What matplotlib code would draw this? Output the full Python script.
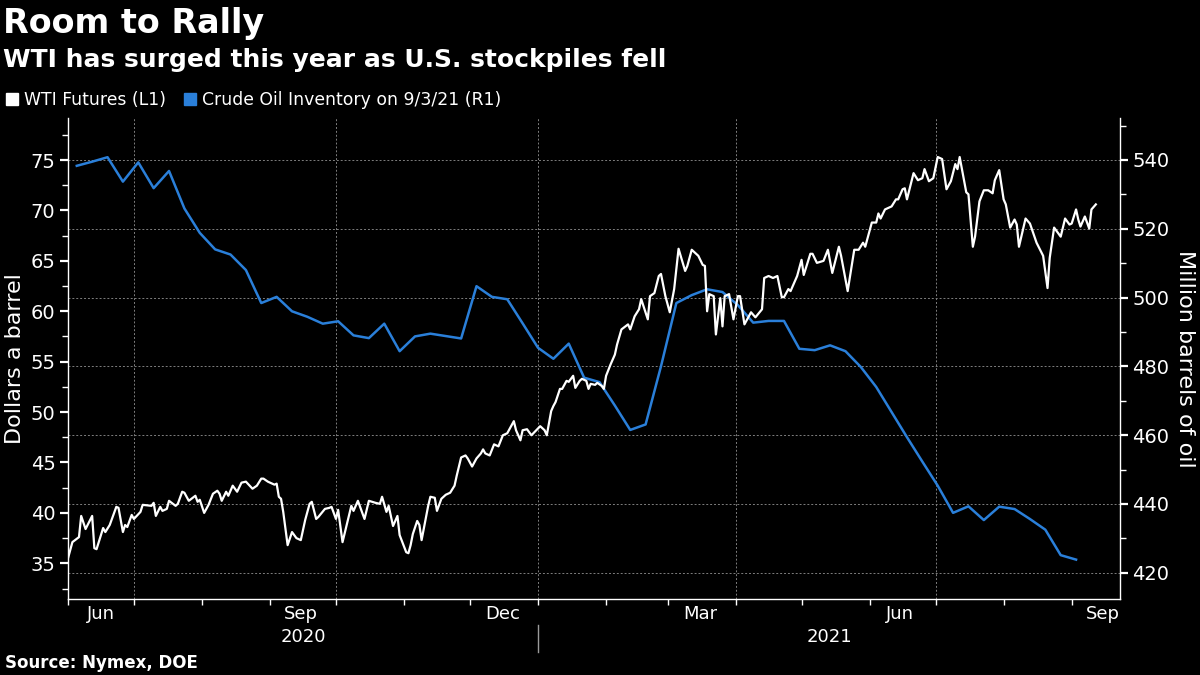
import matplotlib
matplotlib.use("Agg")
import matplotlib.pyplot as plt
import matplotlib.dates as mdates
import matplotlib.transforms as mtransforms
from matplotlib.lines import Line2D
from matplotlib.ticker import MultipleLocator, FixedLocator, FixedFormatter, NullFormatter
import pandas as pd

# WTI futures ($/bbl); x = days since 2020-06-01
wti_days = [
    0, 2, 5, 6, 8, 11, 12, 13, 16, 17, 19, 22, 23, 25, 26, 27, 29, 30, 33, 34,
    38, 39, 40, 42, 43, 45, 46, 49, 50, 52, 53, 55, 58, 59, 60, 62, 64, 66, 68, 69,
    70, 72, 73, 75, 77, 79, 81, 84, 86, 88, 89, 91, 94, 95, 96, 97, 98, 100, 102, 104,
    106, 108, 110, 111, 113, 114, 117, 119, 120, 122, 123, 125, 129, 130, 132, 133, 135, 137, 140, 142,
    143, 145, 146, 148, 150, 151, 154, 155, 156, 157, 159, 160, 161, 164, 165, 167, 168, 170, 172, 174,
    176, 177, 179, 181, 182, 184, 186, 188, 189, 190, 192, 194, 196, 198, 200, 203, 204, 206, 207, 209,
    211, 215, 217, 218, 220, 221, 222, 224, 225, 227, 228, 230, 231, 233, 234, 236, 237, 238, 240, 241,
    243, 244, 245, 247, 249, 250, 252, 255, 256, 258, 260, 261, 264, 265, 267, 269, 270, 272, 274, 276,
    278, 281, 282, 284, 287, 289, 290, 291, 292, 294, 295, 297, 298, 299, 301, 303, 305, 306, 308, 311,
    313, 316, 317, 319, 321, 323, 325, 326, 328, 329, 332, 334, 335, 338, 339, 341, 344, 346, 348, 351,
    352, 355, 358, 360, 362, 363, 366, 368, 369, 370, 372, 375, 377, 378, 380, 381, 382, 385, 387, 389,
    390, 392, 394, 396, 398, 400, 402, 404, 405, 406, 409, 410, 412, 413, 415, 417, 419, 421, 422, 424,
    426, 427, 429, 431, 432, 433, 436, 438, 441, 444, 446, 447, 449, 452, 454, 456, 457, 459, 460, 461,
    463, 465, 466, 468,
]
wti_price = [
    35.5, 37.1, 37.6, 39.7, 38.4, 39.7, 36.5, 36.4, 38.5, 38.1, 38.8, 40.6, 40.5, 38.1, 38.8, 38.6, 39.8, 39.4, 40.1, 40.8,
    40.7, 41.0, 39.7, 40.6, 40.2, 40.4, 41.2, 40.7, 40.9, 42.1, 42.0, 41.2, 41.7, 41.1, 41.3, 40.0, 40.8, 41.9, 42.2, 41.9,
    41.2, 42.1, 41.7, 42.7, 42.1, 43.0, 43.1, 42.4, 42.7, 43.4, 43.4, 43.1, 42.8, 42.9, 41.6, 41.4, 40.1, 36.8, 38.1, 37.5,
    37.3, 39.3, 40.9, 41.1, 39.4, 39.6, 40.4, 40.5, 40.6, 39.4, 40.3, 37.1, 40.7, 40.2, 41.2, 40.6, 39.4, 41.2, 41.0, 40.9,
    41.6, 40.1, 40.7, 38.7, 39.7, 37.8, 36.1, 36.0, 36.8, 37.9, 39.2, 38.8, 37.3, 40.7, 41.6, 41.5, 40.2, 41.4, 41.8, 42.0,
    42.7, 43.7, 45.5, 45.7, 45.4, 44.6, 45.4, 45.9, 46.3, 45.9, 45.7, 46.8, 46.6, 47.7, 47.9, 49.1, 48.2, 47.2, 48.2, 48.3,
    47.7, 48.6, 48.2, 47.7, 50.1, 50.6, 51.0, 52.3, 52.3, 53.1, 53.0, 53.6, 52.4, 53.1, 53.3, 53.1, 52.3, 52.8, 52.7, 52.9,
    52.6, 52.3, 53.6, 54.7, 55.7, 56.7, 58.2, 58.7, 58.2, 59.5, 60.2, 61.2, 59.2, 61.5, 61.8, 63.5, 63.7, 61.5, 59.9, 62.2,
    66.2, 64.0, 64.5, 66.1, 65.5, 64.6, 64.5, 60.0, 61.7, 61.5, 57.7, 61.3, 58.5, 61.5, 61.7, 59.2, 61.5, 61.5, 58.7, 59.9,
    59.4, 60.2, 63.3, 63.5, 63.3, 63.5, 61.4, 61.4, 62.2, 62.0, 63.5, 65.1, 63.6, 65.7, 65.7, 64.8, 65.0, 66.1, 63.8, 66.4,
    65.5, 62.0, 66.1, 66.1, 66.8, 66.4, 68.8, 68.8, 69.7, 69.2, 70.1, 70.4, 71.1, 71.1, 72.1, 72.2, 71.1, 73.7, 73.0, 73.2,
    74.1, 72.9, 73.2, 75.3, 75.1, 72.1, 72.9, 74.6, 74.1, 75.3, 71.8, 71.6, 66.4, 67.4, 70.9, 72.0, 72.0, 71.7, 73.0, 74.0,
    71.1, 70.6, 68.3, 69.1, 68.6, 66.4, 69.2, 68.7, 66.8, 65.5, 62.3, 65.3, 68.3, 67.4, 69.2, 68.6, 68.7, 70.1, 69.1, 68.4,
    69.4, 68.2, 70.1, 70.6,
]

# weekly U.S. crude inventory (million barrels), Fridays 2020-06-05 .. 2021-09-03
inv_first_week = "2020-06-05"
inv_level = [
    538.3, 539.5, 540.8, 533.7, 539.3, 531.8, 536.8, 525.9, 518.8, 514.0,
    512.5, 508.0, 498.4, 500.2, 496.0, 494.4, 492.4, 493.1, 489.0, 488.2,
    492.4, 484.4, 488.7, 489.5, 488.8, 488.1, 503.3, 500.2, 499.5, 492.5,
    485.4, 482.2, 486.6, 476.7, 475.4, 468.6, 461.5, 463.1, 480.0, 498.4,
    500.7, 502.4, 501.6, 497.8, 492.7, 493.2, 493.2, 485.1, 484.7, 486.1,
    484.4, 479.8, 474.0, 466.7, 459.4, 452.3, 445.3, 437.4, 439.3, 435.3,
    439.2, 438.5, 435.6, 432.5, 425.1, 423.8,
]

month_label_dates = ["2020-06-16", "2020-09-15", "2020-12-16", "2021-03-16", "2021-06-15", "2021-09-15"]
month_labels = ["Jun", "Sep", "Dec", "Mar", "Jun", "Sep"]
quarter_starts = ["2020-07-01", "2020-10-01", "2021-01-01", "2021-04-01", "2021-07-01"]
left_ticks = [35, 40, 45, 50, 55, 60, 65, 70, 75]
right_ticks = [420, 440, 460, 480, 500, 520, 540]

x_start = pd.Timestamp("2020-06-01")
x_end = pd.Timestamp("2021-09-23")

wti_dates = x_start + pd.to_timedelta(wti_days, unit="D")
inv_dates = pd.date_range(inv_first_week, periods=len(inv_level), freq="7D")

BLUE = "#2a7fd9"
GRID = "#7e7e7e"

fig = plt.figure(figsize=(12, 6.75), dpi=100, facecolor="black")
ax = fig.add_axes([68 / 1200, 1 - 599 / 675, (1120 - 68) / 1200, (599 - 118) / 675])
ax2 = ax.twinx()
ax.set_zorder(ax2.get_zorder() + 1)
ax.patch.set_visible(False)

# inventory on the right axis, with the horizontal grid
ax2.plot(inv_dates, inv_level, color=BLUE, lw=1.8)
ax2.set_ylim(412.35, 552.2)
ax2.set_yticks(right_ticks)
ax2.yaxis.set_minor_locator(MultipleLocator(10))
ax2.set_axisbelow(True)
ax2.yaxis.grid(True, which="major", color=GRID, ls=(0, (2, 2)), lw=0.7)
for d in quarter_starts:
    ax2.axvline(pd.Timestamp(d), color=GRID, ls=(0, (2, 2)), lw=0.7, zorder=0.5)

# WTI on the left axis
ax.plot(wti_dates, wti_price, color="white", lw=1.6)
ax.set_ylim(31.46, 79.17)
ax.set_yticks(left_ticks)
ax.yaxis.set_minor_locator(MultipleLocator(2.5))
ax.set_xlim(x_start, x_end)

ax.xaxis.set_major_locator(mdates.MonthLocator())
ax.xaxis.set_major_formatter(NullFormatter())
ax.xaxis.set_minor_locator(FixedLocator(mdates.date2num(pd.to_datetime(month_label_dates))))
ax.xaxis.set_minor_formatter(FixedFormatter(month_labels))

for a in (ax, ax2):
    a.spines["top"].set_visible(False)
    for s in a.spines.values():
        s.set_color("white")
        s.set_linewidth(1.0)
ax.spines["right"].set_visible(False)
ax2.spines["left"].set_visible(False)
ax2.spines["bottom"].set_visible(False)

ax.tick_params(axis="y", which="major", colors="white", labelsize=14, length=6, width=1.6, pad=3)
ax.tick_params(axis="y", which="minor", colors="white", length=4, width=1)
ax2.tick_params(axis="y", which="major", colors="white", labelsize=14, length=6, width=1.6, pad=3)
ax2.tick_params(axis="y", which="minor", colors="white", length=4, width=1)
ax.tick_params(axis="x", which="major", colors="white", length=4, width=1)
ax.tick_params(axis="x", which="minor", colors="white", length=0, labelsize=13, pad=4)

# year labels and the separator below the month labels
trans = mtransforms.blended_transform_factory(ax.transData, ax.transAxes)
jan21 = pd.Timestamp("2021-01-01")
ax.text(x_start + (jan21 - x_start) / 2, -0.080, "2020", transform=trans,
        ha="center", va="center", color="white", fontsize=13)
ax.text(jan21 + (x_end - jan21) / 2, -0.080, "2021", transform=trans,
        ha="center", va="center", color="white", fontsize=13)
ax.add_line(Line2D([jan21, jan21], [-0.054, -0.110], transform=trans,
                   color="#9a9a9a", lw=1, clip_on=False))

fig.text(0.0125, 0.469, "Dollars a barrel", rotation=90, ha="center", va="center",
         color="white", fontsize=16)
fig.text(0.9875, 0.469, "Million barrels of oil", rotation=270, ha="center", va="center",
         color="white", fontsize=16)

fig.text(0.0025, 0.951, "Room to Rally", color="white", fontsize=24, fontweight="bold", va="baseline")
fig.text(0.0025, 0.9007, "WTI has surged this year as U.S. stockpiles fell", color="white",
         fontsize=18, fontweight="bold", va="baseline")
fig.text(0.004, 0.0104, "Source: Nymex, DOE", color="white", fontsize=12, fontweight="bold", va="baseline")

handles = [Line2D([], [], marker="s", ls="none", color="white", markersize=8),
           Line2D([], [], marker="s", ls="none", color=BLUE, markersize=8)]
leg = fig.legend(handles, ["WTI Futures (L1)", "Crude Oil Inventory on 9/3/21 (R1)"],
                 loc="center left", bbox_to_anchor=(0.004, 0.852), ncol=2, frameon=False,
                 borderaxespad=0, borderpad=0, handlelength=0.8, handletextpad=0.3,
                 columnspacing=1.0, fontsize=12.4, labelcolor="white")

fig.savefig("out.png", dpi=100, facecolor="black")
